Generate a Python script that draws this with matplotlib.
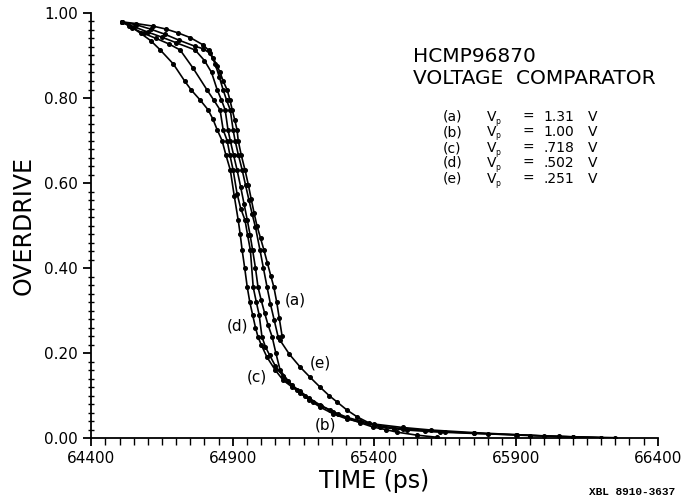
import matplotlib
matplotlib.use("Agg")
import matplotlib.pyplot as plt
from matplotlib.ticker import MultipleLocator, FormatStrFormatter

# ---- data ----
t_a = [64509, 64560, 64619, 64665, 64707, 64750, 64795, 64815, 64831, 64845, 64855, 64866,
       64880, 64890, 64898, 64907, 64915, 64919, 64930, 64943, 64955, 64965, 64975, 64985,
       64998, 65010, 65022, 65034, 65045, 65055, 65064, 65074]
y_a = [0.979, 0.975, 0.969, 0.962, 0.953, 0.942, 0.925, 0.912, 0.894, 0.875, 0.860, 0.840,
       0.819, 0.795, 0.772, 0.748, 0.725, 0.700, 0.665, 0.631, 0.595, 0.562, 0.530, 0.500,
       0.470, 0.442, 0.412, 0.382, 0.355, 0.320, 0.282, 0.240]

t_e = [64509, 64560, 64610, 64660, 64710, 64765, 64795, 64820, 64838, 64852, 64866, 64878,
       64891, 64901, 64908, 64920, 64933, 64945, 64957, 64968, 64980, 64996, 65008, 65021,
       65033, 65046, 65060, 65067, 65100, 65138, 65173, 65208, 65240, 65268, 65303, 65339,
       65380, 65420, 65470, 65515, 65580, 65632, 65750, 65903, 66000, 66100, 66200]
y_e = [0.979, 0.972, 0.962, 0.950, 0.936, 0.922, 0.916, 0.905, 0.880, 0.850, 0.819, 0.795,
       0.772, 0.725, 0.700, 0.665, 0.631, 0.595, 0.560, 0.528, 0.496, 0.442, 0.400, 0.355,
       0.315, 0.278, 0.238, 0.230, 0.197, 0.167, 0.143, 0.120, 0.100, 0.085, 0.066, 0.050,
       0.036, 0.026, 0.022, 0.019, 0.016, 0.014, 0.011, 0.008, 0.005, 0.003, 0.001]

t_b = [64509, 64550, 64600, 64650, 64700, 64767, 64800, 64825, 64845, 64860, 64873, 64883,
       64891, 64903, 64915, 64928, 64940, 64951, 64961, 64970, 64980, 64989, 65000, 65012,
       65025, 65039, 65052, 65067, 65095, 65127, 65155, 65183, 65213, 65243, 65270, 65303,
       65350, 65395, 65440, 65480, 65550, 65621]
y_b = [0.979, 0.968, 0.955, 0.943, 0.930, 0.913, 0.888, 0.860, 0.819, 0.795, 0.772, 0.725,
       0.700, 0.665, 0.631, 0.590, 0.550, 0.513, 0.478, 0.442, 0.400, 0.355, 0.325, 0.295,
       0.265, 0.238, 0.200, 0.160, 0.135, 0.113, 0.098, 0.085, 0.075, 0.066, 0.056, 0.047,
       0.036, 0.026, 0.020, 0.014, 0.007, 0.002]

t_c = [64509, 64545, 64585, 64630, 64675, 64714, 64760, 64809, 64833, 64855, 64866, 64880,
       64890, 64901, 64915, 64928, 64943, 64952, 64962, 64972, 64983, 64993, 65003, 65015,
       65030, 65050, 65078, 65108, 65138, 65170, 65208, 65255, 65303, 65350, 65400, 65500,
       65600, 65750, 65900, 66050, 66200]
y_c = [0.979, 0.965, 0.952, 0.940, 0.927, 0.913, 0.870, 0.819, 0.795, 0.772, 0.725, 0.700,
       0.665, 0.631, 0.575, 0.540, 0.513, 0.478, 0.442, 0.355, 0.320, 0.290, 0.238, 0.215,
       0.195, 0.170, 0.145, 0.125, 0.110, 0.094, 0.078, 0.062, 0.049, 0.040, 0.033, 0.025,
       0.019, 0.013, 0.008, 0.004, 0.001]

t_d = [64509, 64535, 64575, 64610, 64644, 64690, 64730, 64753, 64785, 64813, 64830, 64845,
       64862, 64876, 64891, 64905, 64919, 64926, 64933, 64942, 64951, 64960, 64970, 64980,
       64989, 65000, 65021, 65050, 65078, 65110, 65138, 65170, 65208, 65255, 65303, 65400,
       65500, 65650, 65800, 65950, 66100, 66250]
y_d = [0.979, 0.970, 0.952, 0.935, 0.913, 0.880, 0.840, 0.819, 0.795, 0.772, 0.750, 0.725,
       0.700, 0.665, 0.631, 0.570, 0.513, 0.480, 0.442, 0.400, 0.355, 0.320, 0.290, 0.260,
       0.238, 0.220, 0.190, 0.160, 0.136, 0.120, 0.106, 0.090, 0.073, 0.057, 0.045, 0.030,
       0.022, 0.015, 0.010, 0.006, 0.003, 0.001]

series = [("a", t_a, y_a), ("b", t_b, y_b), ("c", t_c, y_c), ("d", t_d, y_d), ("e", t_e, y_e)]

label_names = ["(a)", "(b)", "(c)", "(d)", "(e)"]
label_t = [65120, 65226, 64986, 64915, 65208]
label_y = [0.325, 0.031, 0.144, 0.264, 0.176]

legend_keys = ["(a)", "(b)", "(c)", "(d)", "(e)"]
legend_vals = ["1.31", "1.00", ".718", ".502", ".251"]

xticks = [64400, 64900, 65400, 65900, 66400]
yticks = [0.0, 0.2, 0.4, 0.6, 0.8, 1.0]

# ---- figure ----
fig = plt.figure(figsize=(6.96, 4.99), dpi=100)
ax = fig.add_axes([0.131, 0.122, 0.814, 0.852])

for name, t, y in series:
    ax.plot(t, y, color="black", lw=1.2, marker="o", ms=2.6, mfc="black", mec="black")

for s, tx, ty in zip(label_names, label_t, label_y):
    ax.text(tx, ty, s, fontsize=11, ha="center", va="center")

ax.set_xlim(64400, 66400)
ax.set_ylim(0, 1.0)
ax.set_xticks(xticks)
ax.set_yticks(yticks)
ax.xaxis.set_minor_locator(MultipleLocator(50))
ax.yaxis.set_minor_locator(MultipleLocator(0.02))
ax.yaxis.set_major_formatter(FormatStrFormatter("%.2f"))
ax.xaxis.set_major_formatter(FormatStrFormatter("%d"))
for sp in ["top", "right"]:
    ax.spines[sp].set_visible(False)
for sp in ["left", "bottom"]:
    ax.spines[sp].set_linewidth(1.3)
ax.tick_params(axis="both", which="major", direction="out", length=6, width=1.3, labelsize=11)
ax.tick_params(axis="y", which="minor", direction="inout", length=5, width=1.0)
ax.tick_params(axis="x", which="minor", direction="out", length=5, width=1.0)

ax.set_xlabel("TIME (ps)", fontsize=17, labelpad=2)
ax.set_ylabel("OVERDRIVE", fontsize=17, labelpad=6)

# annotation block (figure pixel coordinates -> fractions)
W, H = 696.0, 499.0
fig.text(413 / W, 1 - 57 / H, "HCMP96870", fontsize=14.5, ha="left", va="center")
fig.text(413 / W, 1 - 79 / H, "VOLTAGE  COMPARATOR", fontsize=14.5, ha="left", va="center")
rows_y = [117, 132, 148, 163, 179]
fs = 10
for key, val, ry in zip(legend_keys, legend_vals, rows_y):
    yy = 1 - ry / H
    fig.text(443 / W, yy, key, fontsize=fs, ha="left", va="center")
    fig.text(487 / W, yy, "V", fontsize=fs, ha="left", va="center")
    fig.text(495 / W, 1 - (ry + 4) / H, "p", fontsize=5.5, ha="left", va="center")
    fig.text(522 / W, yy, "=", fontsize=fs, ha="left", va="center")
    fig.text(574 / W, yy, val, fontsize=fs, ha="right", va="center")
    fig.text(588 / W, yy, "V", fontsize=fs, ha="left", va="center")

fig.text(675 / W, 1 - 492 / H, "XBL 8910-3637", fontsize=8, ha="right", va="center",
         family="Liberation Mono", fontweight="bold")

fig.savefig("out.png", dpi=100)
